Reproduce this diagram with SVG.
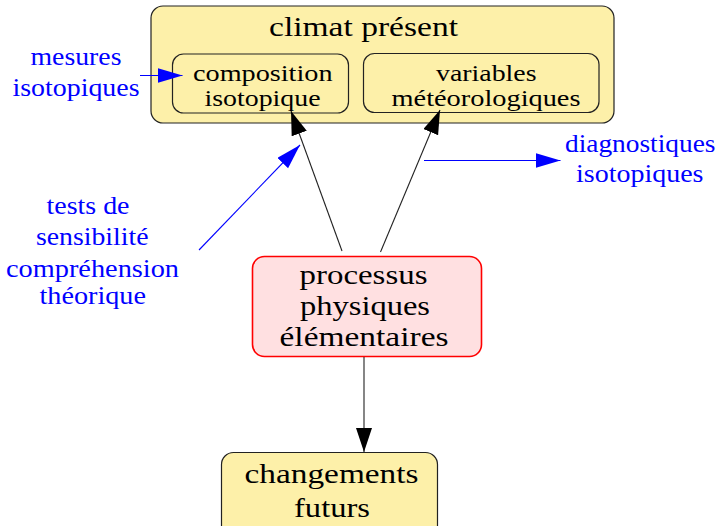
<svg xmlns="http://www.w3.org/2000/svg" width="721" height="526" viewBox="0 0 721 526">
<defs>
<style>
.box{fill:#fdf0a9;stroke:#222;stroke-width:1.2}
.red{fill:#ffe0e1;stroke:#f00;stroke-width:1.6}
.t{font-family:'Liberation Serif','Times New Roman',Times,serif;fill:#000}
.b{font-family:'Liberation Serif','Times New Roman',Times,serif;fill:#00f}
.k{stroke:#222;stroke-width:1.1;fill:none}
.bl{stroke:#00f;stroke-width:1.1;fill:none}
</style>
<marker id="ak" markerUnits="userSpaceOnUse" markerWidth="26" markerHeight="18" refX="24" refY="8" orient="auto"><path d="M0,0 L24,8 L0,16 z" fill="#000"/></marker>
<marker id="ab" markerUnits="userSpaceOnUse" markerWidth="27" markerHeight="17" refX="25" refY="7.5" orient="auto"><path d="M0,0 L25,7.5 L0,15 z" fill="#00f"/></marker>
</defs>
<g id="climat">
<rect class="box" x="151" y="6" width="463" height="117" rx="12"/>
<text class="t" x="269" y="36" font-size="28" textLength="189" lengthAdjust="spacingAndGlyphs">climat présent</text>
</g>
<g id="composition">
<rect class="box" x="172.5" y="54" width="176" height="59" rx="11"/>
<text class="t" x="193" y="81" font-size="24" textLength="139.5" lengthAdjust="spacingAndGlyphs">composition</text>
<text class="t" x="204.5" y="105.5" font-size="24" textLength="116" lengthAdjust="spacingAndGlyphs">isotopique</text>
</g>
<g id="variables">
<rect class="box" x="363.5" y="53.5" width="235.5" height="59" rx="11"/>
<text class="t" x="436" y="81" font-size="24" textLength="100.5" lengthAdjust="spacingAndGlyphs">variables</text>
<text class="t" x="391.5" y="106" font-size="24" textLength="189" lengthAdjust="spacingAndGlyphs">météorologiques</text>
</g>
<g id="processus">
<rect class="red" x="252.5" y="256.5" width="229" height="100" rx="12"/>
<text class="t" x="299.5" y="283.5" font-size="28" textLength="128" lengthAdjust="spacingAndGlyphs">processus</text>
<text class="t" x="300" y="314.5" font-size="28" textLength="130" lengthAdjust="spacingAndGlyphs">physiques</text>
<text class="t" x="279.5" y="345.5" font-size="28" textLength="169" lengthAdjust="spacingAndGlyphs">élémentaires</text>
</g>
<g id="changements">
<rect class="box" x="221.5" y="452.5" width="216" height="85" rx="12"/>
<text class="t" x="244.5" y="482.5" font-size="28" textLength="174" lengthAdjust="spacingAndGlyphs">changements</text>
<text class="t" x="294" y="516.5" font-size="28" textLength="76" lengthAdjust="spacingAndGlyphs">futurs</text>
</g>
<g id="mesures">
<text class="b" x="30.5" y="65" font-size="25" textLength="91" lengthAdjust="spacingAndGlyphs">mesures</text>
<text class="b" x="12.5" y="95.5" font-size="25" textLength="127" lengthAdjust="spacingAndGlyphs">isotopiques</text>
</g>
<g id="tests">
<text class="b" x="46.5" y="213.5" font-size="25" textLength="83" lengthAdjust="spacingAndGlyphs">tests de</text>
<text class="b" x="36" y="244.5" font-size="25" textLength="112.5" lengthAdjust="spacingAndGlyphs">sensibilité</text>
<text class="b" x="6" y="276.5" font-size="25" textLength="173" lengthAdjust="spacingAndGlyphs">compréhension</text>
<text class="b" x="39.5" y="304" font-size="25" textLength="106.5" lengthAdjust="spacingAndGlyphs">théorique</text>
</g>
<g id="diagnostiques">
<text class="b" x="565" y="152" font-size="25" textLength="150.5" lengthAdjust="spacingAndGlyphs">diagnostiques</text>
<text class="b" x="576" y="182" font-size="25" textLength="127.5" lengthAdjust="spacingAndGlyphs">isotopiques</text>
</g>
<g id="connectors">
<line class="k" x1="342" y1="251" x2="291" y2="111" marker-end="url(#ak)"/>
<line class="k" x1="380.5" y1="252" x2="440" y2="110" marker-end="url(#ak)"/>
<line class="k" x1="364" y1="357" x2="364" y2="452" marker-end="url(#ak)"/>
<line class="bl" x1="140" y1="75.5" x2="182.5" y2="75.5" marker-end="url(#ab)"/>
<line class="bl" x1="199" y1="250" x2="300" y2="145" marker-end="url(#ab)"/>
<line class="bl" x1="424" y1="160.5" x2="560.5" y2="160.5" marker-end="url(#ab)"/>
</g>
</svg>
